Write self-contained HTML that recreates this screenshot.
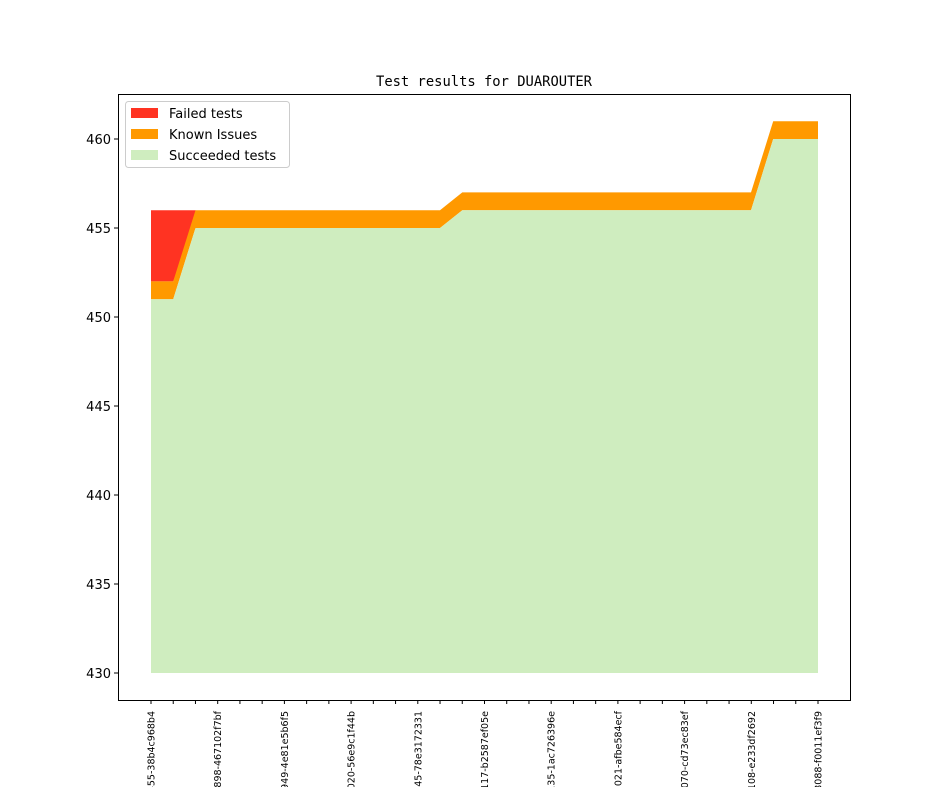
<!DOCTYPE html><html><head><style>html,body{margin:0;background:#fff;overflow:hidden;width:944px;height:787px}svg{display:block}</style></head><body>
<svg width="944" height="787" xmlns="http://www.w3.org/2000/svg" font-family="DejaVu Sans, Liberation Sans, sans-serif">
<rect width="944" height="787" fill="#fff"/>
<text x="484" y="86" text-anchor="middle" font-family="DejaVu Sans Mono, Liberation Mono, monospace" font-size="13.8">Test results for DUAROUTER</text>
<polygon fill="#ff3322" points="151,210.2 173.2,210.2 195.5,210.2 195.5,228 173.2,281.4 151,281.4"/>
<polygon fill="#ff9900" points="151,281.4 173.2,281.4 195.5,210.2 440,210.2 462.3,192.4 751,192.4 773.2,121.2 818,121.2 818,139 773.2,139 751,210.2 462.3,210.2 440,228 195.5,228 173.2,299.2 151,299.2"/>
<polygon fill="#cfedbf" points="151,299.2 173.2,299.2 195.5,228 440,228 462.3,210.2 751,210.2 773.2,139 818,139 818,673 151,673"/>
<rect x="118.5" y="94.5" width="732" height="606" fill="none" stroke="#000" stroke-width="1"/>
<g stroke="#000">
<line x1="118" y1="139" x2="114" y2="139"/><line x1="118" y1="228" x2="114" y2="228"/><line x1="118" y1="317" x2="114" y2="317"/><line x1="118" y1="406" x2="114" y2="406"/><line x1="118" y1="495" x2="114" y2="495"/><line x1="118" y1="584" x2="114" y2="584"/><line x1="118" y1="673" x2="114" y2="673"/>
</g>
<g font-size="13" text-anchor="end">
<text x="111" y="144">460</text><text x="111" y="233">455</text><text x="111" y="322">450</text><text x="111" y="411">445</text><text x="111" y="500">440</text><text x="111" y="589">435</text><text x="111" y="678">430</text>
</g>
<g stroke="#000" id="xt"></g>
<g font-size="9.5" text-anchor="end" id="xl"></g>
<script>
var xt=document.getElementById('xt'),xl=document.getElementById('xl'),ns='http://www.w3.org/2000/svg';
var labs=['v1_0_0-1455-38b4c968b4','v1_0_0-1898-467102f7bf','v1_0_0-1949-4e81e5b6f5','v1_0_0-2020-56e9c1f44b','v1_0_0-2045-78e3172331','v1_0_0-2117-b2587ef05e','v1_0_0-2135-1ac726396e','v1_0_0-3021-afbe584ecf','v1_0_0-3070-cd73ec83ef','v1_0_0-3108-e233df2692','v1_0_0-3088-f0011ef3f9'];
for(var i=0;i<31;i++){var x=151+i*22.233;var l=document.createElementNS(ns,'line');l.setAttribute('x1',x);l.setAttribute('x2',x);l.setAttribute('y1',700);l.setAttribute('y2',704);xt.appendChild(l);
if(i%3==0){var t=document.createElementNS(ns,'text');t.setAttribute('transform','translate('+(x+3.5)+',711) rotate(-90)');t.textContent=labs[i/3];xl.appendChild(t);}}
</script>
<rect x="125.5" y="101.5" width="164" height="66" rx="3" fill="#fff" fill-opacity="0.8" stroke="#ccc"/>
<rect x="131" y="108" width="27" height="10" fill="#ff3322"/>
<rect x="131" y="129" width="27" height="10" fill="#ff9900"/>
<rect x="131" y="150" width="27" height="10" fill="#cfedbf"/>
<g font-size="13"><text x="169" y="118">Failed tests</text><text x="169" y="139">Known Issues</text><text x="169" y="160">Succeeded tests</text></g>
</svg></body></html>
